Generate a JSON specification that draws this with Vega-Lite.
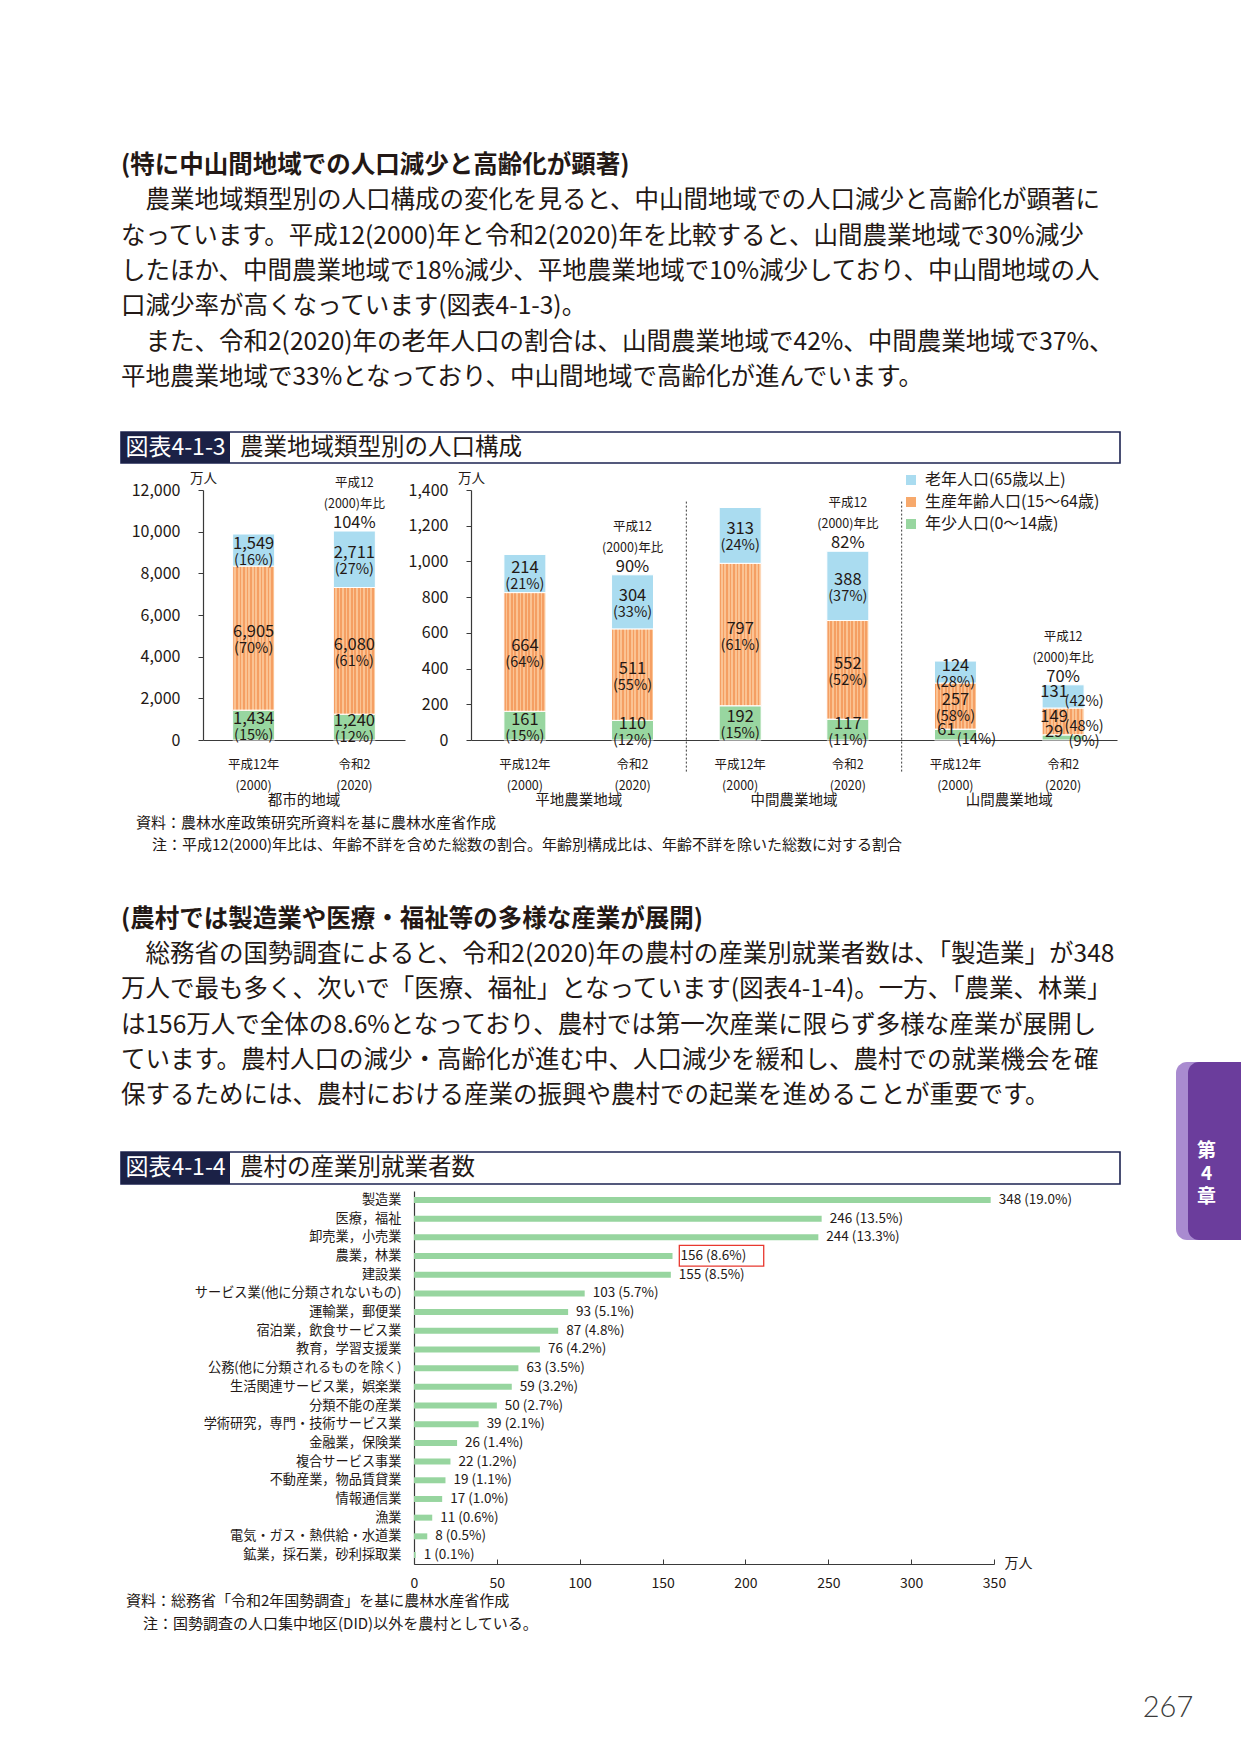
{
  "$schema": "https://vega.github.io/schema/vega-lite/v6.json",
  "background": "white",
  "padding": {"left": 120, "top": 148, "right": 0, "bottom": 0},
  "bounds": "flush",
  "spacing": 0,
  "config": {
    "view": {"stroke": null},
    "font": "Noto Sans CJK JP",
    "text": {"color": "#231815", "font": "Noto Sans CJK JP"},
    "axis": {"grid": false, "labelOverlap": false, "labelFont": "Noto Sans CJK JP", "titleFont": "Noto Sans CJK JP", "labelColor": "#231815", "titleColor": "#231815", "domainColor": "#3a3a3a", "tickColor": "#3a3a3a", "titleFontWeight": "normal"},
    "legend": {"labelFont": "Noto Sans CJK JP"}
  },
  "datasets": {
    "text1": [
      {"行": 0, "種": "見出し", "文": "(特に中山間地域での人口減少と高齢化が顕著)"},
      {"行": 1, "種": "本文", "文": "農業地域類型別の人口構成の変化を見ると、中山間地域での人口減少と高齢化が顕著に"},
      {"行": 2, "種": "本文", "文": "なっています。平成12(2000)年と令和2(2020)年を比較すると、山間農業地域で30%減少"},
      {"行": 3, "種": "本文", "文": "したほか、中間農業地域で18%減少、平地農業地域で10%減少しており、中山間地域の人"},
      {"行": 4, "種": "本文", "文": "口減少率が高くなっています(図表4-1-3)。"},
      {"行": 5, "種": "本文", "文": "また、令和2(2020)年の老年人口の割合は、山間農業地域で42%、中間農業地域で37%、"},
      {"行": 6, "種": "本文", "文": "平地農業地域で33%となっており、中山間地域で高齢化が進んでいます。"}
    ],
    "text2": [
      {"行": 0, "種": "見出し", "文": "(農村では製造業や医療・福祉等の多様な産業が展開)"},
      {"行": 1, "種": "本文", "文": "総務省の国勢調査によると、令和2(2020)年の農村の産業別就業者数は、「製造業」が348"},
      {"行": 2, "種": "本文", "文": "万人で最も多く、次いで「医療、福祉」となっています(図表4-1-4)。一方、「農業、林業」"},
      {"行": 3, "種": "本文", "文": "は156万人で全体の8.6%となっており、農村では第一次産業に限らず多様な産業が展開し"},
      {"行": 4, "種": "本文", "文": "ています。農村人口の減少・高齢化が進む中、人口減少を緩和し、農村での就業機会を確"},
      {"行": 5, "種": "本文", "文": "保するためには、農村における産業の振興や農村での起業を進めることが重要です。"}
    ],
    "tab": [{"章": "第4章"}],
    "chart1": [
      {"地域": "都市的地域", "年": "平成12年", "棒": "都市的地域・平成12年", "区分": "年少人口(0～14歳)", "人口": 1434, "割合": "(15%)"},
      {"地域": "都市的地域", "年": "平成12年", "棒": "都市的地域・平成12年", "区分": "生産年齢人口(15～64歳)", "人口": 6905, "割合": "(70%)"},
      {"地域": "都市的地域", "年": "平成12年", "棒": "都市的地域・平成12年", "区分": "老年人口(65歳以上)", "人口": 1549, "割合": "(16%)"},
      {"地域": "都市的地域", "年": "令和2", "棒": "都市的地域・令和2", "区分": "年少人口(0～14歳)", "人口": 1240, "割合": "(12%)"},
      {"地域": "都市的地域", "年": "令和2", "棒": "都市的地域・令和2", "区分": "生産年齢人口(15～64歳)", "人口": 6080, "割合": "(61%)"},
      {"地域": "都市的地域", "年": "令和2", "棒": "都市的地域・令和2", "区分": "老年人口(65歳以上)", "人口": 2711, "割合": "(27%)"},
      {"地域": "平地農業地域", "年": "平成12年", "棒": "平地農業地域・平成12年", "区分": "年少人口(0～14歳)", "人口": 161, "割合": "(15%)"},
      {"地域": "平地農業地域", "年": "平成12年", "棒": "平地農業地域・平成12年", "区分": "生産年齢人口(15～64歳)", "人口": 664, "割合": "(64%)"},
      {"地域": "平地農業地域", "年": "平成12年", "棒": "平地農業地域・平成12年", "区分": "老年人口(65歳以上)", "人口": 214, "割合": "(21%)"},
      {"地域": "平地農業地域", "年": "令和2", "棒": "平地農業地域・令和2", "区分": "年少人口(0～14歳)", "人口": 110, "割合": "(12%)"},
      {"地域": "平地農業地域", "年": "令和2", "棒": "平地農業地域・令和2", "区分": "生産年齢人口(15～64歳)", "人口": 511, "割合": "(55%)"},
      {"地域": "平地農業地域", "年": "令和2", "棒": "平地農業地域・令和2", "区分": "老年人口(65歳以上)", "人口": 304, "割合": "(33%)"},
      {"地域": "中間農業地域", "年": "平成12年", "棒": "中間農業地域・平成12年", "区分": "年少人口(0～14歳)", "人口": 192, "割合": "(15%)"},
      {"地域": "中間農業地域", "年": "平成12年", "棒": "中間農業地域・平成12年", "区分": "生産年齢人口(15～64歳)", "人口": 797, "割合": "(61%)"},
      {"地域": "中間農業地域", "年": "平成12年", "棒": "中間農業地域・平成12年", "区分": "老年人口(65歳以上)", "人口": 313, "割合": "(24%)"},
      {"地域": "中間農業地域", "年": "令和2", "棒": "中間農業地域・令和2", "区分": "年少人口(0～14歳)", "人口": 117, "割合": "(11%)"},
      {"地域": "中間農業地域", "年": "令和2", "棒": "中間農業地域・令和2", "区分": "生産年齢人口(15～64歳)", "人口": 552, "割合": "(52%)"},
      {"地域": "中間農業地域", "年": "令和2", "棒": "中間農業地域・令和2", "区分": "老年人口(65歳以上)", "人口": 388, "割合": "(37%)"},
      {"地域": "山間農業地域", "年": "平成12年", "棒": "山間農業地域・平成12年", "区分": "年少人口(0～14歳)", "人口": 61, "割合": "(14%)"},
      {"地域": "山間農業地域", "年": "平成12年", "棒": "山間農業地域・平成12年", "区分": "生産年齢人口(15～64歳)", "人口": 257, "割合": "(58%)"},
      {"地域": "山間農業地域", "年": "平成12年", "棒": "山間農業地域・平成12年", "区分": "老年人口(65歳以上)", "人口": 124, "割合": "(28%)"},
      {"地域": "山間農業地域", "年": "令和2", "棒": "山間農業地域・令和2", "区分": "年少人口(0～14歳)", "人口": 29, "割合": "(9%)"},
      {"地域": "山間農業地域", "年": "令和2", "棒": "山間農業地域・令和2", "区分": "生産年齢人口(15～64歳)", "人口": 149, "割合": "(48%)"},
      {"地域": "山間農業地域", "年": "令和2", "棒": "山間農業地域・令和2", "区分": "老年人口(65歳以上)", "人口": 131, "割合": "(42%)"}
    ],
    "ratio": [
      {"地域": "都市的地域", "比": "104%"},
      {"地域": "平地農業地域", "比": "90%"},
      {"地域": "中間農業地域", "比": "82%"},
      {"地域": "山間農業地域", "比": "70%"}
    ],
    "groups": [
      {"地域": "平地農業地域"},
      {"地域": "中間農業地域"},
      {"地域": "山間農業地域"}
    ],
    "chart2": [
      {"産業": "製造業", "人数": 348, "ラベル": "348 (19.0%)"},
      {"産業": "医療，福祉", "人数": 246, "ラベル": "246 (13.5%)"},
      {"産業": "卸売業，小売業", "人数": 244, "ラベル": "244 (13.3%)"},
      {"産業": "農業，林業", "人数": 156, "ラベル": "156 (8.6%)"},
      {"産業": "建設業", "人数": 155, "ラベル": "155 (8.5%)"},
      {"産業": "サービス業(他に分類されないもの)", "人数": 103, "ラベル": "103 (5.7%)"},
      {"産業": "運輸業，郵便業", "人数": 93, "ラベル": "93 (5.1%)"},
      {"産業": "宿泊業，飲食サービス業", "人数": 87, "ラベル": "87 (4.8%)"},
      {"産業": "教育，学習支援業", "人数": 76, "ラベル": "76 (4.2%)"},
      {"産業": "公務(他に分類されるものを除く)", "人数": 63, "ラベル": "63 (3.5%)"},
      {"産業": "生活関連サービス業，娯楽業", "人数": 59, "ラベル": "59 (3.2%)"},
      {"産業": "分類不能の産業", "人数": 50, "ラベル": "50 (2.7%)"},
      {"産業": "学術研究，専門・技術サービス業", "人数": 39, "ラベル": "39 (2.1%)"},
      {"産業": "金融業，保険業", "人数": 26, "ラベル": "26 (1.4%)"},
      {"産業": "複合サービス事業", "人数": 22, "ラベル": "22 (1.2%)"},
      {"産業": "不動産業，物品賃貸業", "人数": 19, "ラベル": "19 (1.1%)"},
      {"産業": "情報通信業", "人数": 17, "ラベル": "17 (1.0%)"},
      {"産業": "漁業", "人数": 11, "ラベル": "11 (0.6%)"},
      {"産業": "電気・ガス・熱供給・水道業", "人数": 8, "ラベル": "8 (0.5%)"},
      {"産業": "鉱業，採石業，砂利採取業", "人数": 1, "ラベル": "1 (0.1%)"}
    ]
  },
  "vconcat": [
    {
      "width": 985, "height": 248,
      "data": {"name": "text1"},
      "encoding": {
        "x": {"datum": 0, "type": "quantitative", "scale": {"domain": [0, 1]}, "axis": null},
        "y": {"field": "行", "type": "ordinal", "axis": null},
        "text": {"field": "文", "type": "nominal"}
      },
      "layer": [
        {"transform": [{"filter": "datum['種'] === '見出し'"}], "mark": {"type": "text", "align": "left", "fontSize": 24.5, "fontWeight": "bold"}},
        {"transform": [{"filter": "datum['行'] === 1 || datum['行'] === 5"}], "mark": {"type": "text", "align": "left", "dx": 24.5, "fontSize": 24.5}},
        {"transform": [{"filter": "datum['種'] === '本文' && datum['行'] !== 1 && datum['行'] !== 5"}], "mark": {"type": "text", "align": "left", "fontSize": 24.5}}
      ]
    },
    {"width": 1, "height": 36, "data": {"values": [{}]}, "mark": {"type": "text", "text": ""}},
    {
      "width": 999, "height": 31,
      "view": {"stroke": "#1d2352", "strokeWidth": 1.6},
      "data": {"values": [{"部": "図表4-1-3", "種": "番号"}, {"部": "農業地域類型別の人口構成", "種": "題"}]},
      "encoding": {
        "x": {"field": "部", "type": "nominal", "sort": null, "scale": {"domain": ["図表4-1-3", "農業地域類型別の人口構成"], "range": [0, 218], "paddingInner": 0, "paddingOuter": 0}, "axis": null}
      },
      "layer": [
        {"transform": [{"filter": "datum['種'] === '番号'"}], "mark": {"type": "rect", "color": "#1b2146"}},
        {"transform": [{"filter": "datum['種'] === '番号'"}], "mark": {"type": "text", "color": "white", "fontSize": 23}, "encoding": {"text": {"field": "部", "type": "nominal"}}},
        {"transform": [{"filter": "datum['種'] === '題'"}], "mark": {"type": "text", "align": "left", "dx": 10, "fontSize": 23.5}, "encoding": {"x": {"field": "部", "type": "nominal", "bandPosition": 0}, "text": {"field": "部", "type": "nominal"}}}
      ]
    },
    {"width": 1, "height": 27, "data": {"values": [{}]}, "mark": {"type": "text", "text": ""}},
    {
      "width": 996, "height": 250,
      "layer": [
        {
          "data": {"name": "chart1"},
          "transform": [
            {"filter": "datum['地域'] === '都市的地域'"},
            {"stack": "人口", "groupby": ["棒"], "sort": [{"field": "区分", "order": "ascending"}], "as": ["下端", "上端"]}
          ],
          "encoding": {
            "x": {
              "field": "棒", "type": "nominal", "sort": null,
              "scale": {"domain": ["都市的地域・平成12年", "都市的地域・令和2"], "range": [82, 284], "paddingInner": 0.583, "paddingOuter": 0.2945},
              "axis": {"orient": "bottom", "ticks": false, "labelPadding": 18, "labelFontSize": 12.5, "labelLineHeight": 21, "labelAngle": 0, "labelOverlap": false, "labelExpr": "indexof(datum.value, '平成') >= 0 ? ['平成12年', '(2000)'] : ['令和2', '(2020)']", "title": "都市的地域", "titleX": 182.5, "titleY": 60, "titleAlign": "center", "titleBaseline": "middle", "titleFontSize": 14.5, "domainWidth": 1.2}
            }
          },
          "layer": [
            {
              "mark": {"type": "bar", "stroke": "white", "strokeWidth": 1},
              "encoding": {
                "y": {"field": "上端", "type": "quantitative", "scale": {"domain": [0, 12000], "nice": false}, "axis": {"orient": "left", "offset": -82, "values": [0, 2000, 4000, 6000, 8000, 10000, 12000], "labelExpr": "format(datum.value, ',')", "labelOverlap": false, "title": "万人", "titleAngle": 0, "titleX": 0, "titleY": -12, "titleAlign": "center", "titleBaseline": "middle", "titleFontSize": 13.5, "labelFontSize": 16, "labelPadding": 18, "tickSize": 5, "domainWidth": 1.2}},
                "y2": {"field": "下端"},
                "color": {"field": "区分", "type": "nominal", "scale": {"domain": ["老年人口(65歳以上)", "生産年齢人口(15～64歳)", "年少人口(0～14歳)"], "range": ["#aadcf0", "#f7a96c", "#98d6a0"]}, "legend": {"orient": "none", "legendX": 782, "legendY": 324, "title": null, "symbolType": "square", "symbolSize": 100, "symbolStrokeWidth": 0, "labelFontSize": 16, "labelColor": "#231815", "labelLimit": 300, "rowPadding": 6, "padding": 0, "labelOffset": 6}}
              }
            },
            {
              "transform": [{"filter": "datum['区分'] === '生産年齢人口(15～64歳)'"}],
              "mark": {"type": "bar", "stroke": "white", "strokeWidth": 1, "fill": {"gradient": "linear", "x1": 0, "y1": 0, "x2": 1, "y2": 0, "stops": [
                {"offset": 0, "color": "#f59f63"}, {"offset": 0.0417, "color": "#f59f63"}, {"offset": 0.0417, "color": "#fbc393"}, {"offset": 0.0833, "color": "#fbc393"},
                {"offset": 0.0833, "color": "#f59f63"}, {"offset": 0.125, "color": "#f59f63"}, {"offset": 0.125, "color": "#fbc393"}, {"offset": 0.1667, "color": "#fbc393"},
                {"offset": 0.1667, "color": "#f59f63"}, {"offset": 0.2083, "color": "#f59f63"}, {"offset": 0.2083, "color": "#fbc393"}, {"offset": 0.25, "color": "#fbc393"},
                {"offset": 0.25, "color": "#f59f63"}, {"offset": 0.2917, "color": "#f59f63"}, {"offset": 0.2917, "color": "#fbc393"}, {"offset": 0.3333, "color": "#fbc393"},
                {"offset": 0.3333, "color": "#f59f63"}, {"offset": 0.375, "color": "#f59f63"}, {"offset": 0.375, "color": "#fbc393"}, {"offset": 0.4167, "color": "#fbc393"},
                {"offset": 0.4167, "color": "#f59f63"}, {"offset": 0.4583, "color": "#f59f63"}, {"offset": 0.4583, "color": "#fbc393"}, {"offset": 0.5, "color": "#fbc393"},
                {"offset": 0.5, "color": "#f59f63"}, {"offset": 0.5417, "color": "#f59f63"}, {"offset": 0.5417, "color": "#fbc393"}, {"offset": 0.5833, "color": "#fbc393"},
                {"offset": 0.5833, "color": "#f59f63"}, {"offset": 0.625, "color": "#f59f63"}, {"offset": 0.625, "color": "#fbc393"}, {"offset": 0.6667, "color": "#fbc393"},
                {"offset": 0.6667, "color": "#f59f63"}, {"offset": 0.7083, "color": "#f59f63"}, {"offset": 0.7083, "color": "#fbc393"}, {"offset": 0.75, "color": "#fbc393"},
                {"offset": 0.75, "color": "#f59f63"}, {"offset": 0.7917, "color": "#f59f63"}, {"offset": 0.7917, "color": "#fbc393"}, {"offset": 0.8333, "color": "#fbc393"},
                {"offset": 0.8333, "color": "#f59f63"}, {"offset": 0.875, "color": "#f59f63"}, {"offset": 0.875, "color": "#fbc393"}, {"offset": 0.9167, "color": "#fbc393"},
                {"offset": 0.9167, "color": "#f59f63"}, {"offset": 0.9583, "color": "#f59f63"}, {"offset": 0.9583, "color": "#fbc393"}, {"offset": 1, "color": "#fbc393"}
              ]}},
              "encoding": {"y": {"field": "上端", "type": "quantitative", "axis": {"values": [0, 2000, 4000, 6000, 8000, 10000, 12000]}}, "y2": {"field": "下端"}}
            },
            {
              "transform": [
                {"fold": ["下端", "上端"], "as": ["端", "位置"]},
                {"aggregate": [{"op": "mean", "field": "位置", "as": "中央"}], "groupby": ["棒", "地域", "年", "区分", "人口", "割合"]}
              ],
              "encoding": {"y": {"field": "中央", "type": "quantitative", "axis": {"values": [0, 2000, 4000, 6000, 8000, 10000, 12000]}}},
              "layer": [
                {"mark": {"type": "text", "dy": -6, "fontSize": 16.5}, "encoding": {"text": {"field": "人口", "type": "quantitative", "format": ","}}},
                {"mark": {"type": "text", "dy": 11, "fontSize": 14.5}, "encoding": {"text": {"field": "割合", "type": "nominal"}}}
              ]
            },
            {
              "transform": [
                {"filter": "datum['年'] === '令和2' && datum['区分'] === '老年人口(65歳以上)'"},
                {"lookup": "地域", "from": {"data": {"name": "ratio"}, "key": "地域", "fields": ["比"]}}
              ],
              "encoding": {"y": {"field": "上端", "type": "quantitative", "axis": {"values": [0, 2000, 4000, 6000, 8000, 10000, 12000]}}},
              "layer": [
                {"mark": {"type": "text", "text": "平成12", "dy": -48, "fontSize": 12.5}},
                {"mark": {"type": "text", "text": "(2000)年比", "dy": -27, "fontSize": 12.5}},
                {"mark": {"type": "text", "dy": -8, "fontSize": 16.5}, "encoding": {"text": {"field": "比", "type": "nominal"}}}
              ]
            }
          ]
        },
        {
          "data": {"name": "chart1"},
          "transform": [
            {"filter": "datum['地域'] !== '都市的地域'"},
            {"stack": "人口", "groupby": ["棒"], "sort": [{"field": "区分", "order": "ascending"}], "as": ["下端", "上端"]}
          ],
          "encoding": {
            "x": {
              "field": "棒", "type": "nominal", "sort": null,
              "scale": {"domain": ["平地農業地域・平成12年", "平地農業地域・令和2", "中間農業地域・平成12年", "中間農業地域・令和2", "山間農業地域・平成12年", "山間農業地域・令和2"], "range": [350, 996], "paddingInner": 0.61, "paddingOuter": 0.3057},
              "axis": {"orient": "bottom", "ticks": false, "labelPadding": 18, "labelFontSize": 12.5, "labelLineHeight": 21, "labelAngle": 0, "labelOverlap": false, "labelExpr": "indexof(datum.value, '平成') >= 0 ? ['平成12年', '(2000)'] : ['令和2', '(2020)']", "title": null, "domainWidth": 1.2}
            }
          },
          "layer": [
            {
              "mark": {"type": "bar", "stroke": "white", "strokeWidth": 1},
              "encoding": {
                "y": {"field": "上端", "type": "quantitative", "scale": {"domain": [0, 1400], "nice": false}, "axis": {"orient": "left", "offset": -350, "values": [0, 200, 400, 600, 800, 1000, 1200, 1400], "labelExpr": "format(datum.value, ',')", "labelOverlap": false, "title": "万人", "titleAngle": 0, "titleX": 0, "titleY": -12, "titleAlign": "center", "titleBaseline": "middle", "titleFontSize": 13.5, "labelFontSize": 16, "labelPadding": 18, "tickSize": 5, "domainWidth": 1.2}},
                "y2": {"field": "下端"},
                "color": {"field": "区分", "type": "nominal", "scale": {"domain": ["老年人口(65歳以上)", "生産年齢人口(15～64歳)", "年少人口(0～14歳)"], "range": ["#aadcf0", "#f7a96c", "#98d6a0"]}, "legend": {"orient": "none", "legendX": 782, "legendY": 324, "title": null, "symbolType": "square", "symbolSize": 100, "symbolStrokeWidth": 0, "labelFontSize": 16, "labelColor": "#231815", "labelLimit": 300, "rowPadding": 6, "padding": 0, "labelOffset": 6}}
              }
            },
            {
              "transform": [{"filter": "datum['区分'] === '生産年齢人口(15～64歳)'"}],
              "mark": {"type": "bar", "stroke": "white", "strokeWidth": 1, "fill": {"gradient": "linear", "x1": 0, "y1": 0, "x2": 1, "y2": 0, "stops": [
                {"offset": 0, "color": "#f59f63"}, {"offset": 0.0417, "color": "#f59f63"}, {"offset": 0.0417, "color": "#fbc393"}, {"offset": 0.0833, "color": "#fbc393"},
                {"offset": 0.0833, "color": "#f59f63"}, {"offset": 0.125, "color": "#f59f63"}, {"offset": 0.125, "color": "#fbc393"}, {"offset": 0.1667, "color": "#fbc393"},
                {"offset": 0.1667, "color": "#f59f63"}, {"offset": 0.2083, "color": "#f59f63"}, {"offset": 0.2083, "color": "#fbc393"}, {"offset": 0.25, "color": "#fbc393"},
                {"offset": 0.25, "color": "#f59f63"}, {"offset": 0.2917, "color": "#f59f63"}, {"offset": 0.2917, "color": "#fbc393"}, {"offset": 0.3333, "color": "#fbc393"},
                {"offset": 0.3333, "color": "#f59f63"}, {"offset": 0.375, "color": "#f59f63"}, {"offset": 0.375, "color": "#fbc393"}, {"offset": 0.4167, "color": "#fbc393"},
                {"offset": 0.4167, "color": "#f59f63"}, {"offset": 0.4583, "color": "#f59f63"}, {"offset": 0.4583, "color": "#fbc393"}, {"offset": 0.5, "color": "#fbc393"},
                {"offset": 0.5, "color": "#f59f63"}, {"offset": 0.5417, "color": "#f59f63"}, {"offset": 0.5417, "color": "#fbc393"}, {"offset": 0.5833, "color": "#fbc393"},
                {"offset": 0.5833, "color": "#f59f63"}, {"offset": 0.625, "color": "#f59f63"}, {"offset": 0.625, "color": "#fbc393"}, {"offset": 0.6667, "color": "#fbc393"},
                {"offset": 0.6667, "color": "#f59f63"}, {"offset": 0.7083, "color": "#f59f63"}, {"offset": 0.7083, "color": "#fbc393"}, {"offset": 0.75, "color": "#fbc393"},
                {"offset": 0.75, "color": "#f59f63"}, {"offset": 0.7917, "color": "#f59f63"}, {"offset": 0.7917, "color": "#fbc393"}, {"offset": 0.8333, "color": "#fbc393"},
                {"offset": 0.8333, "color": "#f59f63"}, {"offset": 0.875, "color": "#f59f63"}, {"offset": 0.875, "color": "#fbc393"}, {"offset": 0.9167, "color": "#fbc393"},
                {"offset": 0.9167, "color": "#f59f63"}, {"offset": 0.9583, "color": "#f59f63"}, {"offset": 0.9583, "color": "#fbc393"}, {"offset": 1, "color": "#fbc393"}
              ]}},
              "encoding": {"y": {"field": "上端", "type": "quantitative", "axis": {"values": [0, 200, 400, 600, 800, 1000, 1200, 1400]}}, "y2": {"field": "下端"}}
            },
            {
              "transform": [
                {"fold": ["下端", "上端"], "as": ["端", "位置"]},
                {"aggregate": [{"op": "mean", "field": "位置", "as": "中央"}], "groupby": ["棒", "地域", "年", "区分", "人口", "割合"]}
              ],
              "encoding": {"y": {"field": "中央", "type": "quantitative", "axis": {"values": [0, 200, 400, 600, 800, 1000, 1200, 1400]}}},
              "layer": [
                {"transform": [{"filter": "!(datum['地域'] === '山間農業地域' && (datum['年'] === '令和2' || datum['区分'] === '年少人口(0～14歳)'))"}], "mark": {"type": "text", "dy": -6, "fontSize": 16.5}, "encoding": {"text": {"field": "人口", "type": "quantitative", "format": ","}}},
                {"transform": [{"filter": "!(datum['地域'] === '山間農業地域' && (datum['年'] === '令和2' || datum['区分'] === '年少人口(0～14歳)'))"}], "mark": {"type": "text", "dy": 11, "fontSize": 14.5}, "encoding": {"text": {"field": "割合", "type": "nominal"}}},
                {"transform": [{"filter": "datum['地域'] === '山間農業地域' && (datum['年'] === '令和2' || datum['区分'] === '年少人口(0～14歳)')"}], "mark": {"type": "text", "dx": -9, "dy": -5, "fontSize": 16.5}, "encoding": {"text": {"field": "人口", "type": "quantitative", "format": ","}}},
                {"transform": [{"filter": "datum['地域'] === '山間農業地域' && (datum['年'] === '令和2' || datum['区分'] === '年少人口(0～14歳)')"}], "mark": {"type": "text", "dx": 21, "dy": 5, "fontSize": 14.5}, "encoding": {"text": {"field": "割合", "type": "nominal"}}}
              ]
            },
            {
              "transform": [
                {"filter": "datum['年'] === '令和2' && datum['区分'] === '老年人口(65歳以上)'"},
                {"lookup": "地域", "from": {"data": {"name": "ratio"}, "key": "地域", "fields": ["比"]}}
              ],
              "encoding": {"y": {"field": "上端", "type": "quantitative", "axis": {"values": [0, 200, 400, 600, 800, 1000, 1200, 1400]}}},
              "layer": [
                {"mark": {"type": "text", "text": "平成12", "dy": -48, "fontSize": 12.5}},
                {"mark": {"type": "text", "text": "(2000)年比", "dy": -27, "fontSize": 12.5}},
                {"mark": {"type": "text", "dy": -8, "fontSize": 16.5}, "encoding": {"text": {"field": "比", "type": "nominal"}}}
              ]
            }
          ]
        },
        {
          "data": {"name": "groups"},
          "transform": [{"filter": "datum['地域'] !== '平地農業地域'"}],
          "mark": {"type": "rule", "strokeDash": [2, 2], "color": "#3a3a3a", "strokeWidth": 1},
          "encoding": {
            "x": {"field": "地域", "type": "nominal", "sort": null, "bandPosition": 0, "scale": {"domain": ["平地農業地域", "中間農業地域", "山間農業地域"], "range": [350, 996], "paddingInner": 0, "paddingOuter": 0}, "axis": {"orient": "bottom", "domain": false, "ticks": false, "labelPadding": 53, "labelFontSize": 14.5, "labelAngle": 0, "labelOverlap": false, "title": null}},
            "y": {"datum": 1335, "type": "quantitative", "scale": {"domain": [0, 1400], "nice": false}, "axis": null},
            "y2": {"datum": -180}
          }
        }
      ],
      "resolve": {"scale": {"x": "independent", "y": "independent"}, "axis": {"x": "independent", "y": "independent"}}
    },
    {"width": 1, "height": 72, "data": {"values": [{}]}, "mark": {"type": "text", "text": ""}},
    {
      "width": 900, "height": 44,
      "data": {"values": [
        {"行": 0, "文": "資料：農林水産政策研究所資料を基に農林水産省作成"},
        {"行": 1, "文": "注：平成12(2000)年比は、年齢不詳を含めた総数の割合。年齢別構成比は、年齢不詳を除いた総数に対する割合"}
      ]},
      "encoding": {
        "x": {"datum": 0, "type": "quantitative", "scale": {"domain": [0, 1]}, "axis": null},
        "y": {"field": "行", "type": "ordinal", "axis": null},
        "text": {"field": "文", "type": "nominal"}
      },
      "layer": [
        {"transform": [{"filter": "datum['行'] === 0"}], "mark": {"type": "text", "align": "left", "dx": 15, "fontSize": 15}},
        {"transform": [{"filter": "datum['行'] === 1"}], "mark": {"type": "text", "align": "left", "dx": 31, "fontSize": 15}}
      ]
    },
    {"width": 1, "height": 46, "data": {"values": [{}]}, "mark": {"type": "text", "text": ""}},
    {
      "width": 985, "height": 212,
      "layer": [
        {
          "data": {"name": "text2"},
          "encoding": {
            "x": {"datum": 0, "type": "quantitative", "scale": {"domain": [0, 1]}, "axis": null},
            "y": {"field": "行", "type": "ordinal", "axis": null},
            "text": {"field": "文", "type": "nominal"}
          },
          "layer": [
            {"transform": [{"filter": "datum['種'] === '見出し'"}], "mark": {"type": "text", "align": "left", "fontSize": 24.5, "fontWeight": "bold"}},
            {"transform": [{"filter": "datum['行'] === 1"}], "mark": {"type": "text", "align": "left", "dx": 24.5, "fontSize": 24.5}},
            {"transform": [{"filter": "datum['種'] === '本文' && datum['行'] !== 1"}], "mark": {"type": "text", "align": "left", "fontSize": 24.5}}
          ]
        },
        {
          "data": {"name": "tab"},
          "mark": {"type": "rect", "color": "#a98bd0", "cornerRadiusTopLeft": 11, "cornerRadiusBottomLeft": 11},
          "encoding": {
            "x": {"field": "章", "type": "nominal", "scale": {"range": [1055, 1121], "paddingInner": 0, "paddingOuter": 0}, "axis": null},
            "y": {"field": "章", "type": "nominal", "scale": {"range": [160, 338], "paddingInner": 0, "paddingOuter": 0}, "axis": null}
          }
        },
        {
          "data": {"name": "tab"},
          "mark": {"type": "rect", "color": "#6b3d9c", "cornerRadiusTopLeft": 11, "cornerRadiusBottomLeft": 11},
          "encoding": {
            "x": {"field": "章", "type": "nominal", "scale": {"range": [1067, 1121], "paddingInner": 0, "paddingOuter": 0}, "axis": null},
            "y": {"field": "章", "type": "nominal", "scale": {"range": [160, 338], "paddingInner": 0, "paddingOuter": 0}, "axis": null}
          }
        },
        {
          "data": {"name": "tab"},
          "mark": {"type": "text", "text": ["第", "4", "章"], "color": "white", "fontSize": 19, "fontWeight": "bold", "lineHeight": 23},
          "encoding": {
            "x": {"field": "章", "type": "nominal", "scale": {"range": [1050, 1121], "paddingInner": 0, "paddingOuter": 0}, "axis": null},
            "y": {"field": "章", "type": "nominal", "scale": {"range": [160, 338], "paddingInner": 0, "paddingOuter": 0}, "axis": null}
          }
        }
      ],
      "resolve": {"scale": {"x": "independent", "y": "independent"}}
    },
    {"width": 1, "height": 38, "data": {"values": [{}]}, "mark": {"type": "text", "text": ""}},
    {
      "width": 999, "height": 32,
      "view": {"stroke": "#1d2352", "strokeWidth": 1.6},
      "data": {"values": [{"部": "図表4-1-4", "種": "番号"}, {"部": "農村の産業別就業者数", "種": "題"}]},
      "encoding": {
        "x": {"field": "部", "type": "nominal", "sort": null, "scale": {"domain": ["図表4-1-4", "農村の産業別就業者数"], "range": [0, 218], "paddingInner": 0, "paddingOuter": 0}, "axis": null}
      },
      "layer": [
        {"transform": [{"filter": "datum['種'] === '番号'"}], "mark": {"type": "rect", "color": "#1b2146"}},
        {"transform": [{"filter": "datum['種'] === '番号'"}], "mark": {"type": "text", "color": "white", "fontSize": 23}, "encoding": {"text": {"field": "部", "type": "nominal"}}},
        {"transform": [{"filter": "datum['種'] === '題'"}], "mark": {"type": "text", "align": "left", "dx": 10, "fontSize": 23.5}, "encoding": {"x": {"field": "部", "type": "nominal", "bandPosition": 0}, "text": {"field": "部", "type": "nominal"}}}
      ]
    },
    {"width": 1, "height": 7, "data": {"values": [{}]}, "mark": {"type": "text", "text": ""}},
    {
      "width": 873, "height": 373,
      "data": {"name": "chart2"},
      "encoding": {
        "y": {"field": "産業", "type": "nominal", "sort": null, "scale": {"paddingInner": 0.68, "paddingOuter": 0.32}, "axis": {"orient": "left", "offset": -293, "title": null, "ticks": false, "labelPadding": 13, "labelFontSize": 13.2, "labelLimit": 400, "domainWidth": 1.2}}
      },
      "layer": [
        {
          "mark": {"type": "bar", "color": "#97d59f"},
          "encoding": {
            "x": {"field": "人数", "type": "quantitative", "scale": {"domain": [0, 350], "range": [293, 873], "nice": false}, "axis": {"orient": "bottom", "values": [0, 50, 100, 150, 200, 250, 300, 350], "title": "万人", "titleX": 883, "titleY": -1, "titleAlign": "left", "titleBaseline": "middle", "titleAngle": 0, "titleFontSize": 14, "tickSize": -5, "labelPadding": 17, "labelFontSize": 14, "labelFlush": false, "domainWidth": 1.2}}
          }
        },
        {
          "mark": {"type": "text", "align": "left", "dx": 8, "fontSize": 13.5},
          "encoding": {"x": {"field": "人数", "type": "quantitative", "axis": {"values": [0, 50, 100, 150, 200, 250, 300, 350]}}, "text": {"field": "ラベル", "type": "nominal"}}
        },
        {
          "transform": [{"filter": "datum['産業'] === '農業，林業'"}],
          "mark": {"type": "point", "shape": "M0.068,-0.107L0.912,-0.107L0.912,0.1L0.068,0.1Z", "size": 40000, "filled": false, "color": "#e8382f", "strokeWidth": 1.3, "opacity": 1},
          "encoding": {"x": {"field": "人数", "type": "quantitative", "axis": {"values": [0, 50, 100, 150, 200, 250, 300, 350]}}}
        }
      ]
    },
    {"width": 1, "height": 25, "data": {"values": [{}]}, "mark": {"type": "text", "text": ""}},
    {
      "width": 900, "height": 47,
      "data": {"values": [
        {"行": 0, "文": "資料：総務省「令和2年国勢調査」を基に農林水産省作成"},
        {"行": 1, "文": "注：国勢調査の人口集中地区(DID)以外を農村としている。"}
      ]},
      "encoding": {
        "x": {"datum": 0, "type": "quantitative", "scale": {"domain": [0, 1]}, "axis": null},
        "y": {"field": "行", "type": "ordinal", "axis": null},
        "text": {"field": "文", "type": "nominal"}
      },
      "layer": [
        {"transform": [{"filter": "datum['行'] === 0"}], "mark": {"type": "text", "align": "left", "dx": 5, "fontSize": 15}},
        {"transform": [{"filter": "datum['行'] === 1"}], "mark": {"type": "text", "align": "left", "dx": 22, "fontSize": 15}}
      ]
    },
    {"width": 1, "height": 56, "data": {"values": [{}]}, "mark": {"type": "text", "text": ""}},
    {
      "width": 1100, "height": 32,
      "data": {"values": [{"頁": "267"}]},
      "mark": {"type": "text", "fontSize": 29, "font": "Lato", "fontWeight": 300, "color": "#3a3a3a"},
      "encoding": {
        "x": {"datum": 0, "type": "quantitative", "scale": {"domain": [0, 1], "range": [1047, 1100]}, "axis": null},
        "text": {"field": "頁", "type": "nominal"}
      }
    }
  ]
}
